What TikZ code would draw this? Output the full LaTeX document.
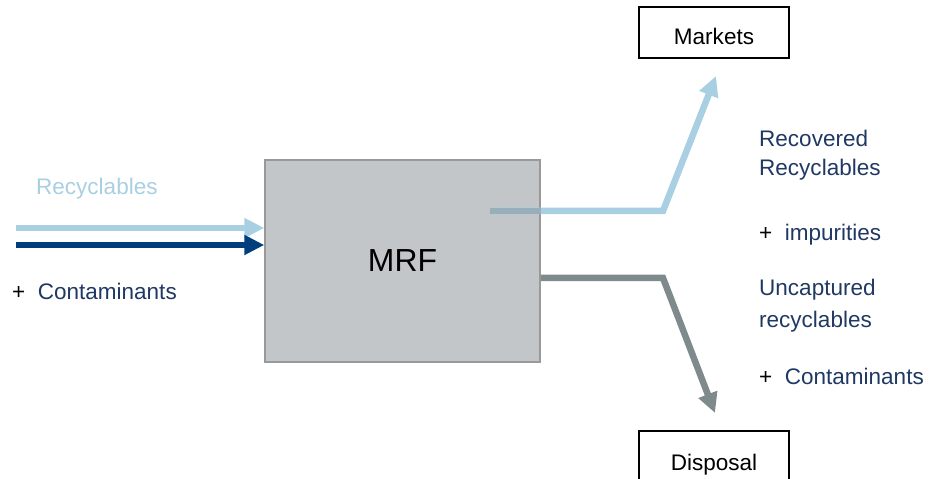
\documentclass[tikz,border=0pt]{standalone}
\usepackage{fontspec}
\setmainfont{Liberation Sans}
\usetikzlibrary{arrows.meta}
\definecolor{lblue}{HTML}{A8CFE2}
\definecolor{dblue}{HTML}{003E7E}
\definecolor{navy}{HTML}{1F3864}
\definecolor{boxgray}{HTML}{C2C6C8}
\definecolor{boxedge}{HTML}{999999}
\definecolor{outgray}{HTML}{7F8A8C}
\definecolor{blend}{HTML}{98AFBB}
\tikzset{
  flow/.style={line width=6.5bp, -{Triangle[length=20bp,width=19bp]}},
  lbl/.style={anchor=west, inner sep=0pt, font=\fontsize{22.6}{26}\selectfont, text=navy},
  endbox/.style={draw=black, line width=1.5bp, minimum width=150bp, minimum height=51bp, inner sep=0pt},
  endtext/.style={inner sep=0pt, anchor=base, font=\fontsize{22.6}{26}\selectfont},
}
\begin{document}
\begin{tikzpicture}[x=1bp,y=-1bp]
\useasboundingbox (0,0) rectangle (931,479);
\clip (0,0) rectangle (931,479);
% MRF box
\node[draw=boxedge, fill=boxgray, line width=1.5bp, minimum width=275bp, minimum height=202bp, inner sep=0pt, font=\fontsize{32}{36}\selectfont] (mrf) at (402.5,261) {MRF};
% end boxes
\node[endbox] (markets) at (714,32.5) {};
\node[endtext] (markettext) at (714,45) {Markets};
\node[endbox, minimum height=80bp] (disposal) at (714,471) {};
\node[endtext] (disptext) at (714,470) {Disposal};
% input arrows
\coordinate (inA) at (16,228);
\coordinate (inB) at (16,245);
\draw[flow, lblue] (inA) -- (mrf.west |- inA);
\draw[flow, dblue] (inB) -- (mrf.west |- inB);
% output arrows
\coordinate (recStart) at (490,211);
\coordinate (recBend) at (663,211);
\coordinate (recTip) at (716,76);
\draw[flow, lblue, line join=miter] (recStart) -- (recBend) -- (recTip);
\draw[line width=6.5bp, blend] (recStart) -- (mrf.east |- recStart);
\coordinate (disStart) at (mrf.east |- 0,278);
\coordinate (disBend) at (663,278);
\coordinate (disTip) at (715,413);
\draw[flow, outgray, line join=miter] (disStart) -- (disBend) -- (disTip);
% labels
\node[lbl, text=lblue] (recyc) at (36,189) {Recyclables};
\node[lbl] (contam) at (12,291) {\textcolor{black}{+}\ \ Contaminants};
\node[lbl] (recov1) at (759,138) {Recovered};
\node[lbl] (recov2) at (759,170) {Recyclables};
\node[lbl] (impur) at (759,235) {\textcolor{black}{+}\ \ impurities};
\node[lbl] (uncap1) at (759,290) {Uncaptured};
\node[lbl] (uncap2) at (759,322) {recyclables};
\node[lbl] (contam2) at (759,376) {\textcolor{black}{+}\ \ Contaminants};
\end{tikzpicture}
\end{document}
